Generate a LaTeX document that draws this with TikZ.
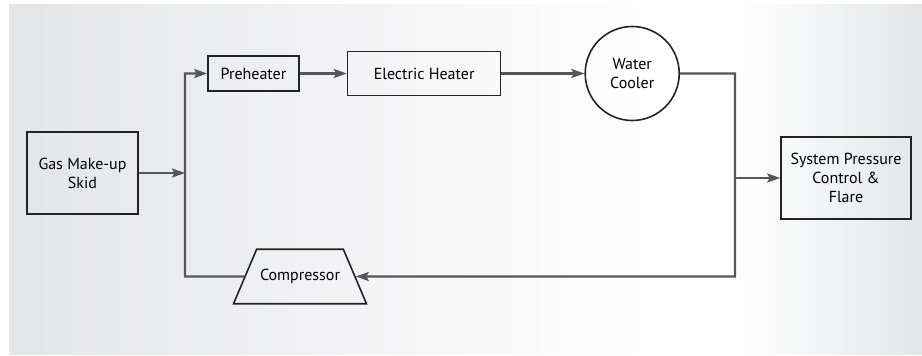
\documentclass[tikz,border=0pt]{standalone}
\usepackage{fontspec}
\setmainfont{PT Sans}
\usepackage{xcolor}
\usepackage{tikz}
\usetikzlibrary{arrows.meta, positioning, shapes.geometric}

\definecolor{panelgray}{HTML}{E4E5E8}
\definecolor{pipegray}{HTML}{555658}
\definecolor{edgegray}{HTML}{232323}
\pgfdeclarehorizontalshading{panelshade}{100bp}{color(0bp)=(panelgray); color(25bp)=(panelgray);
  color(60bp)=(white); color(65bp)=(white); color(75bp)=(panelgray); color(100bp)=(panelgray)}

\begin{document}
\begin{tikzpicture}[
  x=1pt, y=1pt,
  node distance=12pt and 47pt,
  box/.style={draw=edgegray, line width=1.6pt, minimum height=35pt, inner sep=2pt,
    align=center, font=\fontsize{16}{19}\selectfont},
  pipe/.style={draw=pipegray, line width=2.4pt},
  flow/.style={pipe, -{Stealth[length=13pt, width=9pt, inset=2.5pt]}}
]
\useasboundingbox (0,0) rectangle (922,-356);
\fill[shading=panelshade] (9,-4) rectangle (922,-354);

\node[box, minimum width=111pt, minimum height=82pt] (skid) at (82.5,-173) {Gas Make-up\\Skid};
\node[box, minimum width=91pt] (pre) at (253.5,-73.5) {Preheater};
\node[box, minimum width=153pt, minimum height=44pt, right=of pre] (heat) {Electric Heater};
\node[box, circle, minimum size=94pt, right=83pt of heat] (cool) {Water\\Cooler};
\node[box, minimum width=130pt, minimum height=82pt] (flare) at (846,-178) {System Pressure\\Control \&\\Flare};
\node[box, trapezium, trapezium angle=67, trapezium stretches body, minimum height=0pt,
  inner ysep=20pt, minimum width=133pt] (comp) at (300,-276.5) {Compressor};

\coordinate (mix) at (185,-276.5);
\coordinate (ret) at (735,-276.5);

% loop
\draw[flow] (comp.west) -- (mix) |- (pre.west);
\draw[flow] (skid.east) -- (skid.east -| mix);
\draw[flow] (pre) -- (heat);
\draw[flow] (heat) -- (cool);
\draw[flow] (cool.east) -| (ret) -- (comp.east);
\draw[flow] (flare.west -| ret) -- (flare.west);
\end{tikzpicture}
\end{document}
